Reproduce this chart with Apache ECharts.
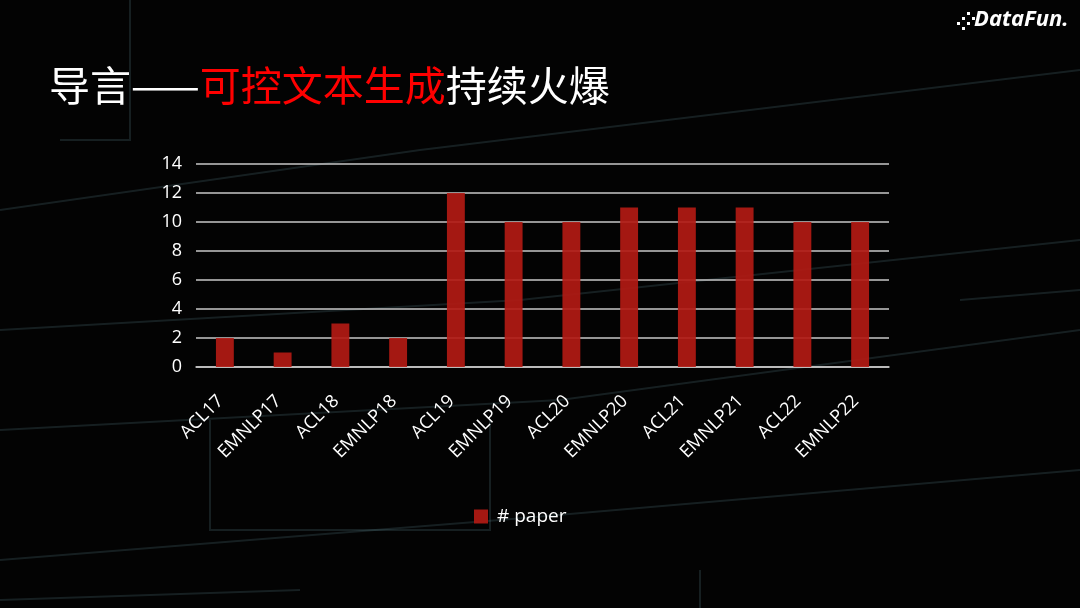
<!DOCTYPE html>
<html><head><meta charset="utf-8">
<script src="https://cdn.jsdelivr.net/npm/echarts@6/dist/echarts.min.js"></script>
<style>html,body{margin:0;padding:0;background:#000;}#c{width:1080px;height:608px;}</style>
</head><body><div id="c"></div>
<script>
const categories = ['ACL17','EMNLP17','ACL18','EMNLP18','ACL19','EMNLP19','ACL20','EMNLP20','ACL21','EMNLP21','ACL22','EMNLP22'];
const paperCounts = [2,1,3,2,12,10,10,11,11,11,10,10];
const seriesName = '# paper';
const yTicks = {min:0, max:14, interval:2};

const chart = echarts.init(document.getElementById('c'));
// decorative faint background lines
const deco = [];
const lineSpecs = [
  [[0,210],[420,150],[1080,70]],
  [[0,330],[520,300],[1080,240]],
  [[0,430],[560,400],[1080,330]],
  [[0,560],[500,520],[1080,470]],
  [[130,0],[130,140],[60,140]],
  [[210,420],[210,530],[490,530],[490,420]],
  [[700,570],[700,608]],
  [[960,300],[1080,290]],
  [[0,600],[300,590]]
];
lineSpecs.forEach(p => deco.push({type:'polyline', silent:true, z:-10, shape:{points:p}, style:{stroke:'rgba(90,130,140,0.22)', lineWidth:2, fill:null}}));
// logo dots
const dots = [[957,22],[962,17],[962,27],[967,22],[967,12],[972,17]];
dots.forEach(d => deco.push({type:'rect', silent:true, shape:{x:d[0], y:d[1], width:3, height:3}, style:{fill:'#ffffff'}}));

chart.setOption({
  backgroundColor:'#030303',
  animation:false,
  graphic: deco.concat([
    {type:'text', left:49, top:65, style:{
      rich:{w:{fill:'#ffffff', fontSize:41, fontFamily:'Noto Sans CJK SC'}, r:{fill:'#ff0000', fontSize:41, fontFamily:'Noto Sans CJK SC'}},
      text:'{w|导言——}{r|可控文本生成}{w|持续火爆}'}},
    {type:'text', left:974, top:9, style:{text:'DataFun.', fill:'#ffffff', fontSize:22, fontWeight:'bold', fontStyle:'italic', fontFamily:'Open Sans'}}
  ]),
  legend:{top:502, left:469, itemWidth:14, itemHeight:14, icon:'rect', data:[seriesName],
    textStyle:{color:'#ffffff', fontSize:19, fontFamily:'Open Sans', padding:[0,0,0,4]}},
  grid:{left:196, right:191, top:164, bottom:241},
  xAxis:{type:'category', data:categories,
    axisLine:{lineStyle:{color:'#c8c8c8', width:1.5}}, axisTick:{show:false},
    axisLabel:{rotate:45, color:'#ffffff', fontSize:18, fontFamily:'Open Sans', margin:27, interval:0, padding:[0,6,0,0]}},
  yAxis:{type:'value', min:yTicks.min, max:yTicks.max, interval:yTicks.interval,
    axisLine:{show:false}, axisTick:{show:false},
    splitLine:{lineStyle:{color:'#c8c8c8', width:1.5}},
    axisLabel:{color:'#ffffff', fontSize:18, fontFamily:'Open Sans', margin:14}},
  series:[{name:seriesName, type:'bar', data:paperCounts, barWidth:'31%',
    itemStyle:{color:'rgba(178,26,20,0.92)'}}]
});
</script></body></html>
